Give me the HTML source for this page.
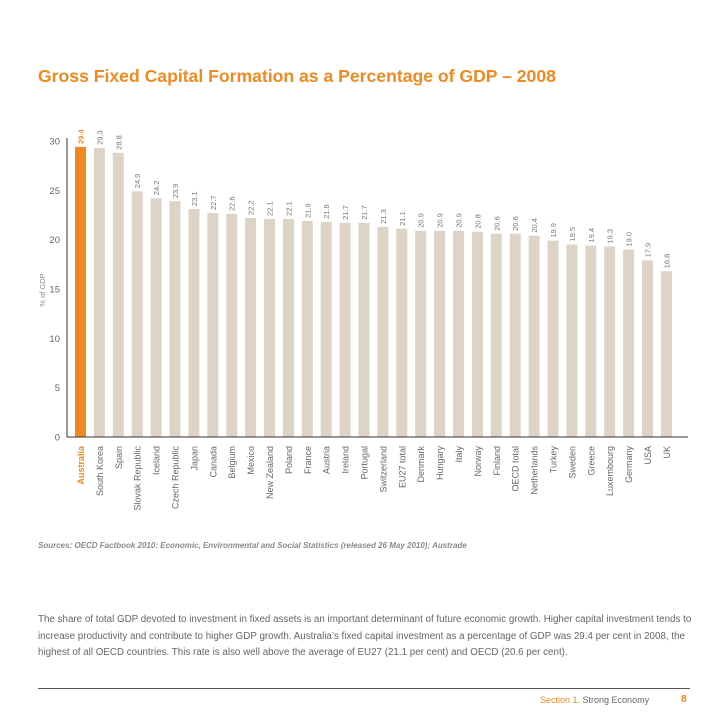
<!DOCTYPE html>
<html><head><meta charset="utf-8"><style>
body{margin:0;width:728px;height:728px;background:#fff;font-family:"Liberation Sans",sans-serif;position:relative;overflow:hidden}
.t{position:absolute;white-space:nowrap}
</style></head><body>
<div class="t" style="left:38px;top:66px;font-size:17.6px;font-weight:bold;color:#f0891f">Gross Fixed Capital Formation as a Percentage of GDP – 2008</div>
<svg id="c" width="728" height="540" style="position:absolute;left:0;top:0" font-family="Liberation Sans, sans-serif"></svg>
<div class="t" style="left:38px;top:541px;font-size:8px;font-style:italic;font-weight:bold;color:#8a8a8a">Sources: OECD Factbook 2010: Economic, Environmental and Social Statistics (released 26 May 2010); Austrade</div>
<div style="position:absolute;left:38px;top:612px;white-space:nowrap;font-size:9.8px;line-height:16.5px;color:#666">The share of total GDP devoted to investment in fixed assets is an important determinant of future economic growth. Higher capital investment tends to<br>increase productivity and contribute to higher GDP growth. Australia’s fixed capital investment as a percentage of GDP was 29.4 per cent in 2008, the<br>highest of all OECD countries. This rate is also well above the average of EU27 (21.1 per cent) and OECD (20.6 per cent).</div>
<div style="position:absolute;left:38px;top:688px;width:652px;height:1px;background:#555"></div>
<div class="t" style="left:540px;top:695px;font-size:9px;color:#666"><span style="color:#f0891f">Section 1.</span> Strong Economy</div>
<div class="t" style="left:681px;top:694px;font-size:10px;font-weight:bold;color:#f0891f">8</div>
<script>
const categories=["Australia","South Korea","Spain","Slovak Republic","Iceland","Czech Republic","Japan","Canada","Belgium","Mexico","New Zealand","Poland","France","Austria","Ireland","Portugal","Switzerland","EU27 total","Denmark","Hungary","Italy","Norway","Finland","OECD total","Netherlands","Turkey","Sweden","Greece","Luxembourg","Germany","USA","UK"];
const values=[29.4,29.3,28.8,24.9,24.2,23.9,23.1,22.7,22.6,22.2,22.1,22.1,21.9,21.8,21.7,21.7,21.3,21.1,20.9,20.9,20.9,20.8,20.6,20.6,20.4,19.9,19.5,19.4,19.3,19.0,17.9,16.8];
const labels=["29.4","29.3","28.8","24.9","24.2","23.9","23.1","22.7","22.6","22.2","22.1","22.1","21.9","21.8","21.7","21.7","21.3","21.1","20.9","20.9","20.9","20.8","20.6","20.6","20.4","19.9","19.5","19.4","19.3","19.0","17.9","16.8"];
const ticks=[0,5,10,15,20,25,30];
const svg=document.getElementById('c');const NS='http://www.w3.org/2000/svg';
const y0=437,y30=141;const yS=v=>y0-(v/30)*(y0-y30);
const xS=i=>75+i*18.9;const bw=11;
function mk(t,a,txt){const e=document.createElementNS(NS,t);for(const k in a)e.setAttribute(k,a[k]);if(txt!=null)e.textContent=txt;svg.appendChild(e);return e;}
ticks.forEach(t=>{const e=mk('text',{x:60,y:yS(t)+3.5,'text-anchor':'end','font-size':9.5,fill:'#666'},t);

});
const yt=mk('text',{transform:'translate(45,290) rotate(-90)','text-anchor':'middle','font-size':7.5,fill:'#888'},'% of GDP');


categories.forEach((c,i)=>{const x=xS(i),v=values[i],hi=i===0;
const r=mk('rect',{x:x,y:yS(v),width:bw,height:y0-yS(v),fill:hi?'#f0891f':'#ddd3c7'});


const vl=mk('text',{transform:`translate(${x+bw/2+3},${yS(v)-3}) rotate(-90)`,'font-size':7.5,fill:hi?'#f0891f':'#777','font-weight':hi?'bold':'normal'},labels[i]);


const cl=mk('text',{transform:`translate(${x+bw/2+3.5},446) rotate(-90)`,'text-anchor':'end','font-size':9,fill:hi?'#f0891f':'#666','font-weight':hi?'bold':'normal'},c);

});
const ax=mk('line',{x1:67,y1:138,x2:67,y2:437,stroke:'#333','stroke-width':1});


const bx=mk('line',{x1:67,y1:437,x2:688,y2:437,stroke:'#333','stroke-width':1});


</script>
</body></html>
